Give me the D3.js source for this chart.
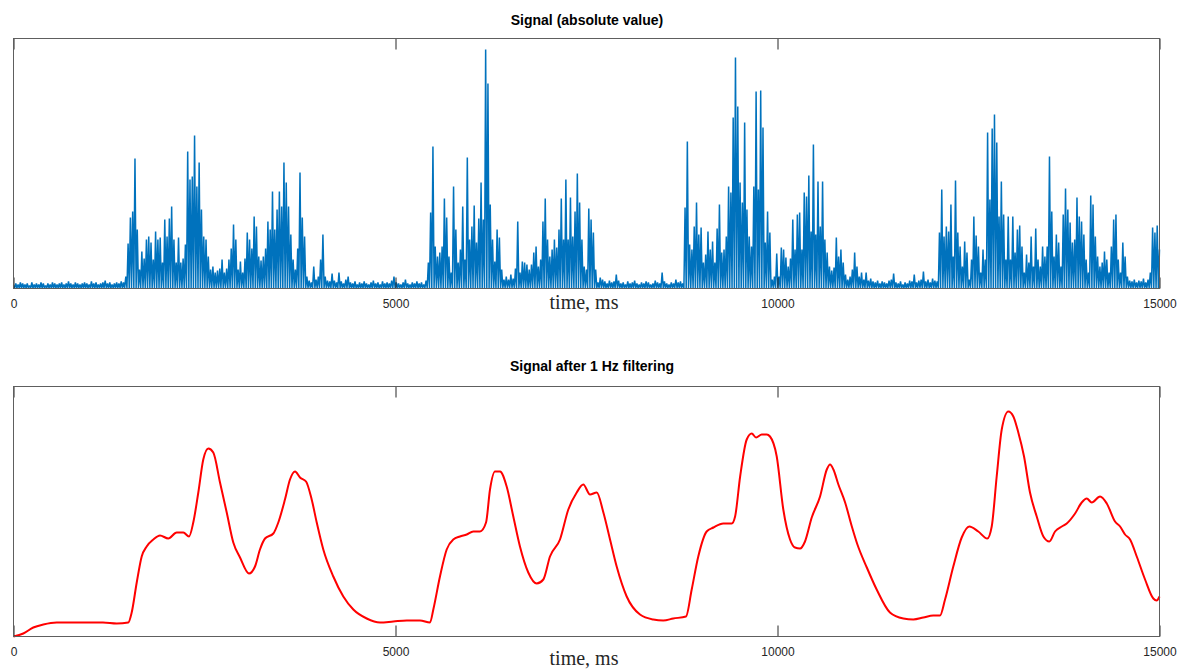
<!DOCTYPE html>
<html>
<head>
<meta charset="utf-8">
<script src="https://cdn.jsdelivr.net/npm/d3@7"></script>
<style>
  body { margin: 0; background: #fff; }
  svg { display: block; }
</style>
</head>
<body>
<svg id="chart" width="1180" height="669"></svg>
<script>
// ---- data -------------------------------------------------------------
// Rectified signal: peak |amplitude| in consecutive 30 ms windows (arb. units)
const binMs = 30;
const absPeaks = [
  3,5,4,6,5,4,5,3,6,4, 5,4,6,5,3,5,4,6,5,4, 5,6,4,5,7,5,4,6,5,4, 5,6,5,4,7,5,6,4,5,6,
  8,5,6,4,5,6,5,7,6,12,
  45,71,77,130,59,19,37,30,49,52, 46,29,57,49,51,26,69,52,70,82,
  49,26,51,26,30,44,137,109,112,153, 102,126,79,52,49,32,19,22,16,18,
  20,29,16,20,29,40,64,49,19,27, 16,30,56,49,40,72,62,32,28,32,
  40,67,59,97,59,79,97,82,126,106, 82,54,29,19,40,116,71,52,12,8,
  6,22,9,12,29,54,12,8,7,15, 8,6,16,7,5,9,12,6,5,7,
  4,6,5,7,5,4,6,8,5,6, 4,7,5,6,5,8,12,6,5,4,
  6,9,5,4,6,5,7,5,6,4, 8,26,76,142,42,32,36,42,90,71,
  32,16,102,59,26,39,82,29,131,49, 62,83,46,70,106,69,239,205,84,49,
  27,59,51,19,9,12,9,14,10,20, 67,16,27,26,24,19,24,36,42,22,
  29,67,90,49,32,39,49,41,59,90, 49,109,49,91,52,77,115,86,49,22,
  19,80,69,56,19,6,11,9,7,5, 8,6,7,14,8,5,6,4,7,5,
  6,8,5,4,6,5,7,6,4,5, 8,6,5,16,7,5,4,6,5,9,
  6,7,5,81,147,44,39,62,86,54, 61,26,34,57,39,47,26,60,84,36,
  39,52,102,96,171,231,182,106,86,166, 79,52,42,102,197,99,198,161,46,77,
  56,9,12,35,12,41,39,31,22,30, 69,39,74,76,39,96,92,113,57,144,
  54,107,62,107,49,36,22,18,21,51, 32,39,26,14,9,12,19,36,22,12,
  16,9,16,8,10,7,6,8,5,7, 6,5,8,9,15,6,5,7,4,6,
  5,8,7,14,6,8,9,17,7,9, 6,10,8,7,56,99,52,62,57,84,
  32,108,56,42,22,47,36,9,29,72, 53,42,16,39,29,156,89,160,174,146,
  72,107,74,29,72,29,72,36,59,63, 42,16,34,26,52,22,60,29,22,42,
  32,42,132,77,32,54,46,22,74,100, 79,66,46,49,91,72,67,54,29,16,
  93,84,52,32,22,26,37,29,16,42, 69,74,29,16,46,32,12,8,7,9,
  6,8,7,10,6,9,16,61,56,63, 39
];
// level the rectified trace falls back to between successive peaks
const noiseFloor = 0.5;

// Low-pass (1 Hz) filtered envelope
const filtTime = [
  0,128,259,390,565,914,1171,1351,1503,1547,
  1613,1678,1743,1830,1918,2026,2136,2223,2297,2353,
  2419,2484,2550,2615,2703,2791,2877,2965,3082,3161,
  3226,3292,3401,3466,3553,3619,3685,3750,3829,3903,
  3969,4055,4186,4317,4448,4623,4797,4971,5147,5321,
  5452,5495,5582,5670,5756,5844,5932,6018,6106,6185,
  6237,6302,6368,6455,6542,6629,6738,6848,6935,7022,
  7153,7262,7372,7458,7546,7634,7721,7808,7895,8026,
  8200,8374,8505,8636,8802,8877,8963,9073,9161,9291,
  9401,9445,9511,9597,9663,9719,9794,9859,9902,9990,
  10076,10164,10229,10295,10360,10448,10557,10645,10688,10732,
  10797,10885,10973,11046,11169,11298,11472,11647,11778,11909,
  12039,12127,12193,12301,12411,12510,12628,12746,12804,12869,
  12935,13021,13087,13152,13227,13305,13393,13480,13558,13633,
  13721,13786,13895,13982,14048,14113,14222,14310,14418,14484,
  14549,14615,14702,14811,14919,14963,15000
];
const filtValue = [
  0,3,9,12,14,14,14,13,14,24,
  54,80,90,97,101,98,104,104,100,114,
  144,177,188,184,154,124,94,79,63,70,
  87,98,103,114,137,157,165,159,155,137,
  114,87,60,40,27,18,14,15,16,16,
  14,27,60,87,97,100,102,105,105,114,
  147,165,165,150,120,90,64,53,57,80,
  97,127,144,152,142,144,124,97,70,40,
  22,17,16,18,20,47,80,105,109,113,
  113,120,160,197,203,199,202,202,200,180,
  127,97,89,88,95,119,140,167,172,167,
  152,134,110,92,69,47,24,18,17,19,
  21,21,37,70,99,110,105,98,110,160,
  207,225,220,204,180,144,120,100,95,105,
  110,113,123,134,138,134,140,133,115,110,
  102,97,80,57,38,36,40
];

const timeDomain = [0, 15000];
const xTicks = [0, 5000, 10000, 15000];
const yDomainRaw = [0, 250];
const yDomainFilt = [0, 250];
const titleRaw = "Signal (absolute value)";
const titleFilt = "Signal after 1 Hz filtering";
const xLabel = "time, ms";

// ---- drawing ----------------------------------------------------------
const svg = d3.select("#chart");
svg.append("rect").attr("width", 1180).attr("height", 669).attr("fill", "#fff");

const left = 13.5, right = 1159.5;
const x = d3.scaleLinear().domain(timeDomain).range([left, right]);

function drawFrame(top, bottom, title, titleX, titleY, labelY) {
  const g = svg.append("g");

  // bottom axis: inward ticks with labels
  const axB = g.append("g")
    .attr("transform", `translate(0,${bottom})`)
    .call(d3.axisBottom(x).tickValues(xTicks).tickFormat(d3.format("d"))
      .tickSizeInner(-11).tickSizeOuter(0).tickPadding(11));
  axB.select(".domain").remove();
  axB.attr("font-family", "'Liberation Sans', Arial, Helvetica, sans-serif")
     .attr("font-size", 12);
  axB.selectAll("line").attr("stroke", "#262626");
  axB.selectAll("text").attr("fill", "#262626");

  // top axis: inward ticks only
  const axT = g.append("g")
    .attr("transform", `translate(0,${top})`)
    .call(d3.axisTop(x).tickValues(xTicks).tickFormat(() => "")
      .tickSizeInner(-11).tickSizeOuter(0));
  axT.select(".domain").remove();
  axT.selectAll("line").attr("stroke", "#262626");

  // box
  g.append("rect")
    .attr("x", left).attr("y", top)
    .attr("width", right - left).attr("height", bottom - top)
    .attr("fill", "none").attr("stroke", "#5e5e5e").attr("stroke-width", 1);

  g.append("text")
    .attr("x", titleX).attr("y", titleY)
    .attr("text-anchor", "middle")
    .attr("font-family", "'Liberation Sans', Arial, Helvetica, sans-serif")
    .attr("font-size", 14).attr("font-weight", "bold").attr("fill", "#000")
    .text(title);

  g.append("text")
    .attr("x", 584).attr("y", labelY)
    .attr("text-anchor", "middle")
    .attr("font-family", "'Liberation Serif', 'Times New Roman', serif")
    .attr("font-size", 20).attr("fill", "#262626")
    .text(xLabel);
}

// top panel: rectified signal
const topT = 38.5, topB = 288.5;
const yRaw = d3.scaleLinear().domain(yDomainRaw).range([topB, topT]);
const rawPts = [];
absPeaks.forEach((v, i) => {
  rawPts.push([i * binMs, v]);
  if (i < absPeaks.length - 1) rawPts.push([i * binMs + binMs / 2, noiseFloor]);
});
svg.append("path")
  .datum(rawPts)
  .attr("fill", "none")
  .attr("stroke", "#0072BD")
  .attr("stroke-width", 1.5)
  .attr("stroke-linejoin", "miter")
  .attr("stroke-miterlimit", 1)
  .attr("d", d3.line().x(d => x(d[0])).y(d => yRaw(d[1])));
drawFrame(topT, topB, titleRaw, 587, 25, 309);

// bottom panel: filtered signal
const botT = 386.5, botB = 636.5;
const yFilt = d3.scaleLinear().domain(yDomainFilt).range([botB, botT]);
const filtPts = filtTime.map((t, i) => [t, filtValue[i]]);
svg.append("path")
  .datum(filtPts)
  .attr("fill", "none")
  .attr("stroke", "#ff0000")
  .attr("stroke-width", 2)
  .attr("stroke-linejoin", "round")
  .attr("d", d3.line().curve(d3.curveMonotoneX).x(d => x(d[0])).y(d => yFilt(d[1])));
drawFrame(botT, botB, titleFilt, 592, 371, 665);
</script>
</body>
</html>
